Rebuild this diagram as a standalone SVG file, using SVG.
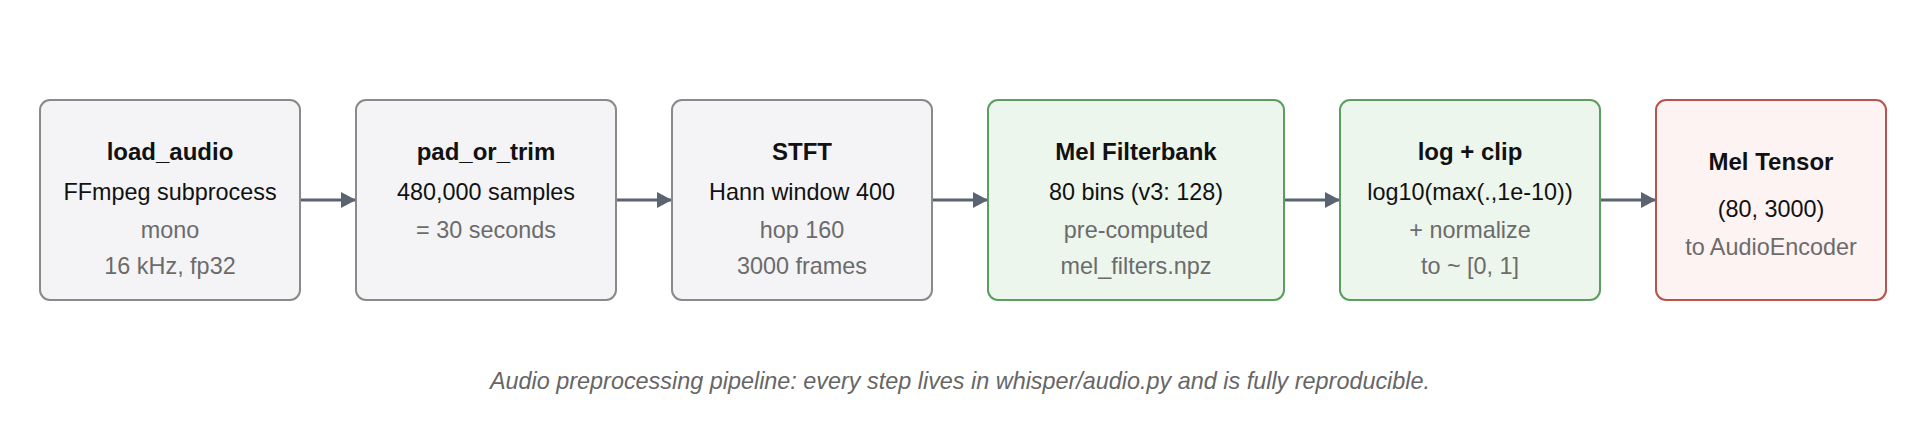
<svg xmlns="http://www.w3.org/2000/svg" width="1920" height="440" viewBox="0 0 1920 440">
<style>
text{font-family:"Liberation Sans",Arial,Helvetica,sans-serif;text-anchor:middle}
.t{font-size:24px;font-weight:bold;fill:#111}
.m{font-size:23.4px;fill:#111}
.s{font-size:23.4px;fill:#6b6b6b}
.cap{font-size:23.4px;font-style:italic;fill:#666}
.gray rect{fill:#f4f4f6;stroke:#8a8a8a;stroke-width:2}
.green rect{fill:#edf6ed;stroke:#5b9e5e;stroke-width:2}
.red rect{fill:#fdf3f2;stroke:#b9534e;stroke-width:2}
.edge{stroke:#5b6270;stroke-width:3;fill:none}
</style>
<defs>
<marker id="arr" viewBox="0 0 15 16" refX="15" refY="8" markerWidth="15" markerHeight="16" markerUnits="userSpaceOnUse" orient="auto">
<path d="M0,0 L15,8 L0,16 Z" fill="#5b6270"/>
</marker>
</defs>
<rect width="1920" height="440" fill="#ffffff"/>
<g id="connectors">
<line class="edge" x1="300" y1="200" x2="356" y2="200" marker-end="url(#arr)"/>
<line class="edge" x1="616" y1="200" x2="672" y2="200" marker-end="url(#arr)"/>
<line class="edge" x1="932" y1="200" x2="988" y2="200" marker-end="url(#arr)"/>
<line class="edge" x1="1284" y1="200" x2="1340" y2="200" marker-end="url(#arr)"/>
<line class="edge" x1="1600" y1="200" x2="1656" y2="200" marker-end="url(#arr)"/>
</g>
<g id="load_audio" class="gray">
<rect x="40" y="100" width="260" height="200" rx="10"/>
<text class="t" x="170" y="160">load_audio</text>
<text class="m" x="170" y="200">FFmpeg subprocess</text>
<text class="s" x="170" y="238">mono</text>
<text class="s" x="170" y="274">16 kHz, fp32</text>
</g>
<g id="pad_or_trim" class="gray">
<rect x="356" y="100" width="260" height="200" rx="10"/>
<text class="t" x="486" y="160">pad_or_trim</text>
<text class="m" x="486" y="200">480,000 samples</text>
<text class="s" x="486" y="238">= 30 seconds</text>
</g>
<g id="stft" class="gray">
<rect x="672" y="100" width="260" height="200" rx="10"/>
<text class="t" x="802" y="160">STFT</text>
<text class="m" x="802" y="200">Hann window 400</text>
<text class="s" x="802" y="238">hop 160</text>
<text class="s" x="802" y="274">3000 frames</text>
</g>
<g id="mel_filterbank" class="green">
<rect x="988" y="100" width="296" height="200" rx="10"/>
<text class="t" x="1136" y="160">Mel Filterbank</text>
<text class="m" x="1136" y="200">80 bins (v3: 128)</text>
<text class="s" x="1136" y="238">pre-computed</text>
<text class="s" x="1136" y="274">mel_filters.npz</text>
</g>
<g id="log_clip" class="green">
<rect x="1340" y="100" width="260" height="200" rx="10"/>
<text class="t" x="1470" y="160">log + clip</text>
<text class="m" x="1470" y="200">log10(max(.,1e-10))</text>
<text class="s" x="1470" y="238">+ normalize</text>
<text class="s" x="1470" y="274">to ~ [0, 1]</text>
</g>
<g id="mel_tensor" class="red">
<rect x="1656" y="100" width="230" height="200" rx="10"/>
<text class="t" x="1771" y="170">Mel Tensor</text>
<text class="m" x="1771" y="217">(80, 3000)</text>
<text class="s" x="1771" y="255">to AudioEncoder</text>
</g>
<text class="cap" x="960" y="389">Audio preprocessing pipeline: every step lives in whisper/audio.py and is fully reproducible.</text>
</svg>
